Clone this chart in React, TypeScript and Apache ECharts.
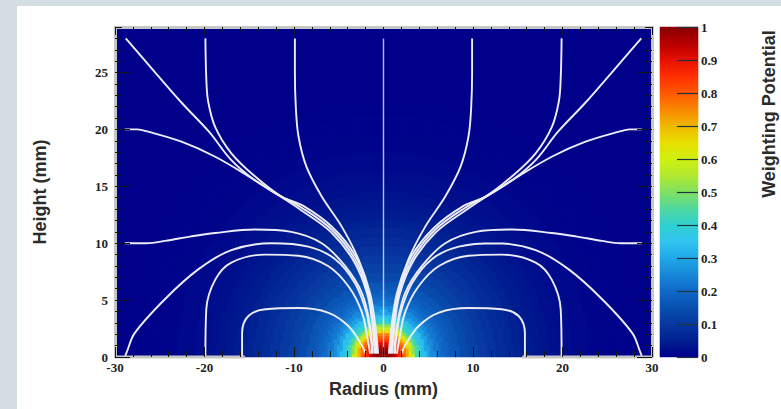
import React, { useEffect, useRef } from "react";
import * as echarts from "echarts";

// ---- axis ranges / ticks ----
const X_MIN = -30;
const X_MAX = 30;
const Y_MIN = 0;
const Y_MAX = 29;
const Y_MAJOR_TICKS = [0, 5, 10, 15, 20, 25];

// ---- weighting potential: radial profile ----
// distance from the point contact (mm, height scaled by Z_ASPECT)
const PROFILE_RADIUS = [
  0, 0.5, 0.75, 1.0, 1.25, 1.5, 1.75, 2.0, 2.25, 2.5, 2.75, 3.0, 3.25, 3.5, 3.75, 4.0, 4.5, 5.0, 5.5, 6, 6.5, 7, 7.5, 8,
  9, 10, 11, 12, 13, 14, 15, 16, 17, 18, 19, 20, 22, 24, 26, 28, 30,
];
const PROFILE_POTENTIAL = [
  1.0, 1.0, 0.99, 0.97, 0.94, 0.91, 0.88, 0.84, 0.8, 0.76, 0.71, 0.65, 0.58, 0.51, 0.45, 0.4, 0.34, 0.29, 0.255, 0.225, 0.205, 0.188, 0.172, 0.16,
  0.138, 0.12, 0.105, 0.09, 0.078, 0.066, 0.055, 0.046, 0.038, 0.031, 0.025, 0.02, 0.013, 0.008, 0.005, 0.002, 0.0,
];
const Z_ASPECT = 1.275;

// ---- colour palette of the z scale (0 .. 1) ----
const PALETTE = [
  "#00008a", "#002090", "#0838a0", "#0850b0", "#1068c8", "#1888d8", "#20a8e8",
  "#30c4f0", "#30d0d0", "#50d8a0", "#80e060", "#b0e830", "#d0f010", "#e8e000",
  "#f0b800", "#f88800", "#ff5800", "#ff3000", "#e81000", "#b80000", "#880000",
];

// ---- field lines (left half, [radius, height]) ----
const LINE_TOP_10 = [[-9.9, 28.0], [-9.9, 25.0], [-9.8, 22.0], [-9.5, 19.4], [-8.6, 16.7], [-6.9, 14.1], [-4.7, 11.5], [-2.8, 8.6], [-1.5, 5.6], [-0.9, 2.7], [-0.6, 0.3]];
const LINE_TOP_20 = [[-19.9, 28.0], [-19.8, 24.5], [-19.6, 22.5], [-18.8, 20.2], [-17.0, 17.9], [-14.4, 15.9], [-11.4, 14.1], [-9.0, 13.3], [-5.7, 11.4], [-3.0, 8.7], [-1.6, 5.6], [-1.0, 2.7], [-0.75, 0.3]];
const LINE_CORNER = [[-28.8, 28.0], [-25.5, 25.0], [-22.5, 22.3], [-19.5, 19.8], [-17.0, 17.3], [-14.5, 15.6], [-12.1, 14.4], [-9.1, 13.1], [-5.8, 11.2], [-3.2, 8.6], [-1.7, 5.6], [-1.1, 2.7], [-0.9, 0.3]];
const LINE_SIDE_20 = [[-28.9, 20.0], [-27.5, 20.0], [-26.3, 19.8], [-22.5, 18.9], [-18.8, 17.6], [-15.1, 15.9], [-12.1, 14.4], [-9.2, 12.9], [-5.9, 11.0], [-3.3, 8.4], [-1.8, 5.5], [-1.2, 2.6], [-1.0, 0.3]];
const LINE_SIDE_10 = [[-28.9, 10.0], [-26.5, 10.0], [-24.4, 10.2], [-21.5, 10.6], [-18.8, 10.9], [-14.4, 11.2], [-10.3, 11.0], [-6.9, 10.0], [-4.3, 8.0], [-2.4, 5.6], [-1.5, 2.7], [-1.2, 0.3]];
const LINE_SIDE_0 = [[-28.9, 0.0], [-28.7, 0.4], [-27.8, 2.1], [-24.4, 5.1], [-20.7, 7.7], [-17.0, 9.4], [-12.5, 10.0], [-8.4, 9.7], [-5.4, 8.6], [-3.2, 6.5], [-1.9, 3.9], [-1.4, 1.6], [-1.3, 0.3]];
const LINE_BOTTOM_20 = [[-19.9, 0.0], [-19.8, 4.2], [-18.8, 6.8], [-17.0, 8.3], [-13.2, 9.0], [-9.5, 8.9], [-6.2, 8.0], [-3.9, 6.2], [-2.4, 3.9], [-1.7, 1.25], [-1.5, 0.3]];
const LINE_BOTTOM_16 = [[-15.8, 0.0], [-15.8, 2.1], [-15.1, 3.6], [-13.2, 4.2], [-9.5, 4.3], [-6.2, 3.9], [-3.9, 2.7], [-2.4, 1.0], [-2.0, 0.3]];
const LINE_AXIS = [[0, 0], [0, 28.0]];
const LEFT_LINES = [LINE_TOP_10, LINE_TOP_20, LINE_CORNER, LINE_SIDE_20, LINE_SIDE_10, LINE_SIDE_0, LINE_BOTTOM_20, LINE_BOTTOM_16];

// light frame on the bottom edge outside the contact surface
const SURFACE_LEFT = [[-30, 0], [-15.5, 0]];
const SURFACE_RIGHT = [[15.5, 0], [30, 0]];

// heatmap sampling (cells of 3 px so edges fall on whole pixels)
const CELLS_X = 179;
const CELLS_Y = 110;
const COLORBAR_CELLS = 165;

function potentialAt(r: number, z: number): number {
  const d = Math.hypot(r, z * Z_ASPECT);
  let best = 0;
  for (let i = 1; i < PROFILE_RADIUS.length; i++) {
    if (Math.abs(d - PROFILE_RADIUS[i]) < Math.abs(d - PROFILE_RADIUS[best])) best = i;
  }
  return PROFILE_POTENTIAL[best];
}

function buildOption() {
  const dx = (X_MAX - X_MIN) / CELLS_X;
  const dy = (Y_MAX - Y_MIN) / CELLS_Y;
  const xCells: string[] = [];
  const yCells: string[] = [];
  for (let i = 0; i < CELLS_X; i++) xCells.push(String(i));
  for (let j = 0; j < CELLS_Y; j++) yCells.push(String(j));
  const heat: number[][] = [];
  for (let i = 0; i < CELLS_X; i++) {
    const r = X_MIN + (i + 0.5) * dx;
    for (let j = 0; j < CELLS_Y; j++) {
      const z = Y_MIN + (j + 0.5) * dy;
      heat.push([i, j, potentialAt(r, z)]);
    }
  }
  const cbCells: string[] = [];
  const cbData: number[][] = [];
  for (let k = 0; k < COLORBAR_CELLS; k++) {
    cbCells.push(String(k));
    cbData.push([0, k, (k + 0.5) / COLORBAR_CELLS]);
  }

  const serif = "Liberation Serif";
  const sans = "Liberation Sans";
  const tickStyle = { color: "#151515", width: 1 };
  const frame = { color: "#c6c6c6", width: 3 };
  const labelStyle = { fontFamily: serif, fontWeight: "bold" as const, fontSize: 13, color: "#222" };
  const nameStyle = { fontFamily: sans, fontWeight: "bold" as const, fontSize: 18, color: "#2b2b2b" };

  const lineSeries: any[] = [];
  const fieldStyle = { color: "#ededf6", width: 1.9 };
  LEFT_LINES.forEach((pts) => {
    lineSeries.push({
      type: "line", xAxisIndex: 1, yAxisIndex: 1, data: pts, symbol: "none", smooth: 0.35,
      lineStyle: fieldStyle, z: 3, silent: true,
    });
    lineSeries.push({
      type: "line", xAxisIndex: 1, yAxisIndex: 1, data: pts.map(([x, y]) => [-x, y]), symbol: "none", smooth: 0.35,
      lineStyle: fieldStyle, z: 3, silent: true,
    });
  });
  lineSeries.push({
    type: "line", xAxisIndex: 1, yAxisIndex: 1, data: LINE_AXIS, symbol: "none",
    lineStyle: { color: "rgba(225,230,255,0.8)", width: 1.4 }, z: 3, silent: true,
  });
  [SURFACE_LEFT, SURFACE_RIGHT].forEach((pts) => {
    lineSeries.push({
      type: "line", xAxisIndex: 1, yAxisIndex: 1, data: pts, symbol: "none", clip: false,
      lineStyle: frame, z: 4, silent: true,
    });
  });

  const noZero = { onZero: false };

  return {
    animation: false,
    grid: [
      { left: 115, top: 27, width: 537, height: 330, show: true, backgroundColor: "#00008a", borderWidth: 0 },
      { left: 660, top: 27, width: 38, height: 330, show: true, backgroundColor: "#00008a", borderWidth: 0 },
    ],
    visualMap: {
      type: "continuous", min: 0, max: 1, show: false, seriesIndex: [0, 1],
      inRange: { color: PALETTE },
    },
    graphic: [
      {
        type: "text", x: 769, y: 114, rotation: Math.PI / 2, silent: true,
        style: {
          text: "Weighting Potential", fontFamily: sans, fontWeight: "bold", fontSize: 18, fill: "#2b2b2b",
          align: "center", verticalAlign: "middle", textAlign: "center", textVerticalAlign: "middle",
        },
      },
    ],
    xAxis: [
      { type: "category", gridIndex: 0, data: xCells, show: false },
      {
        type: "value", gridIndex: 0, min: X_MIN, max: X_MAX, interval: 10, position: "bottom", z: 5,
        axisLine: { show: false, ...noZero },
        axisTick: { show: true, inside: true, length: 10, lineStyle: tickStyle },
        minorTick: { show: true, splitNumber: 5, length: 6, lineStyle: tickStyle },
        splitLine: { show: false },
        axisLabel: { ...labelStyle, margin: 4 },
        name: "Radius (mm)", nameLocation: "middle", nameGap: 23, nameTextStyle: nameStyle,
      },
      {
        type: "value", gridIndex: 0, min: X_MIN, max: X_MAX, interval: 10, position: "top", z: 5,
        axisLine: { show: true, lineStyle: frame, ...noZero },
        axisTick: { show: true, inside: true, length: 8, lineStyle: tickStyle },
        minorTick: { show: true, splitNumber: 5, length: 4, lineStyle: tickStyle },
        splitLine: { show: false },
        axisLabel: { show: false },
      },
      { type: "category", gridIndex: 1, data: ["cb"], show: false },
    ],
    yAxis: [
      { type: "category", gridIndex: 0, data: yCells, show: false },
      {
        type: "value", gridIndex: 0, min: Y_MIN, max: Y_MAX, position: "left", z: 5,
        axisLine: { show: true, lineStyle: frame, ...noZero },
        axisTick: { show: true, inside: true, length: 15, lineStyle: tickStyle, customValues: Y_MAJOR_TICKS },
        splitLine: { show: false },
        axisLabel: { ...labelStyle, margin: 7, customValues: Y_MAJOR_TICKS, padding: [0, 0, 3, 0] },
        name: "Height (mm)", nameLocation: "middle", nameGap: 66, nameTextStyle: nameStyle,
      },
      {
        type: "value", gridIndex: 0, min: Y_MIN, max: Y_MAX, interval: 1, position: "left", z: 5,
        axisLine: { show: false, ...noZero },
        axisTick: { show: true, inside: true, length: 7, lineStyle: tickStyle },
        splitLine: { show: false },
        axisLabel: { show: false },
      },
      {
        type: "value", gridIndex: 0, min: Y_MIN, max: Y_MAX, position: "right", z: 5,
        axisLine: { show: true, lineStyle: frame, ...noZero },
        axisTick: { show: true, inside: true, length: 15, lineStyle: tickStyle, customValues: Y_MAJOR_TICKS },
        splitLine: { show: false },
        axisLabel: { show: false },
      },
      {
        type: "value", gridIndex: 0, min: Y_MIN, max: Y_MAX, interval: 1, position: "right", z: 5,
        axisLine: { show: false, ...noZero },
        axisTick: { show: true, inside: true, length: 7, lineStyle: tickStyle },
        splitLine: { show: false },
        axisLabel: { show: false },
      },
      { type: "category", gridIndex: 1, data: cbCells, show: false },
      {
        type: "value", gridIndex: 1, min: 0, max: 1, interval: 0.1, position: "right", z: 5,
        axisLine: { show: false, ...noZero },
        axisTick: { show: true, inside: true, length: 21, lineStyle: { color: "#1e3440", width: 1.2 } },
        splitLine: { show: false },
        axisLabel: { ...labelStyle, margin: 3 },
      },
    ],
    series: [
      {
        type: "heatmap", xAxisIndex: 0, yAxisIndex: 0, data: heat, progressive: 0, silent: true, z: 1,
        emphasis: { disabled: true },
      },
      {
        type: "heatmap", xAxisIndex: 3, yAxisIndex: 5, data: cbData, progressive: 0, silent: true, z: 1,
        emphasis: { disabled: true },
      },
      ...lineSeries,
    ],
  };
}

export default function App() {
  const ref = useRef<HTMLDivElement>(null);
  useEffect(() => {
    if (!ref.current) return;
    const chart = echarts.init(ref.current, undefined, { renderer: "svg" });
    chart.setOption(buildOption() as any);
    return () => chart.dispose();
  }, []);
  return (
    <div style={{ position: "fixed", left: 0, top: 0, width: 781, height: 409, background: "#d4dde2", overflow: "hidden" }}>
      <div style={{ position: "absolute", left: 17, top: 6, right: 0, bottom: 0, background: "#ffffff" }} />
      <div ref={ref} style={{ position: "absolute", left: 0, top: 0, width: 781, height: 409 }} />
    </div>
  );
}
